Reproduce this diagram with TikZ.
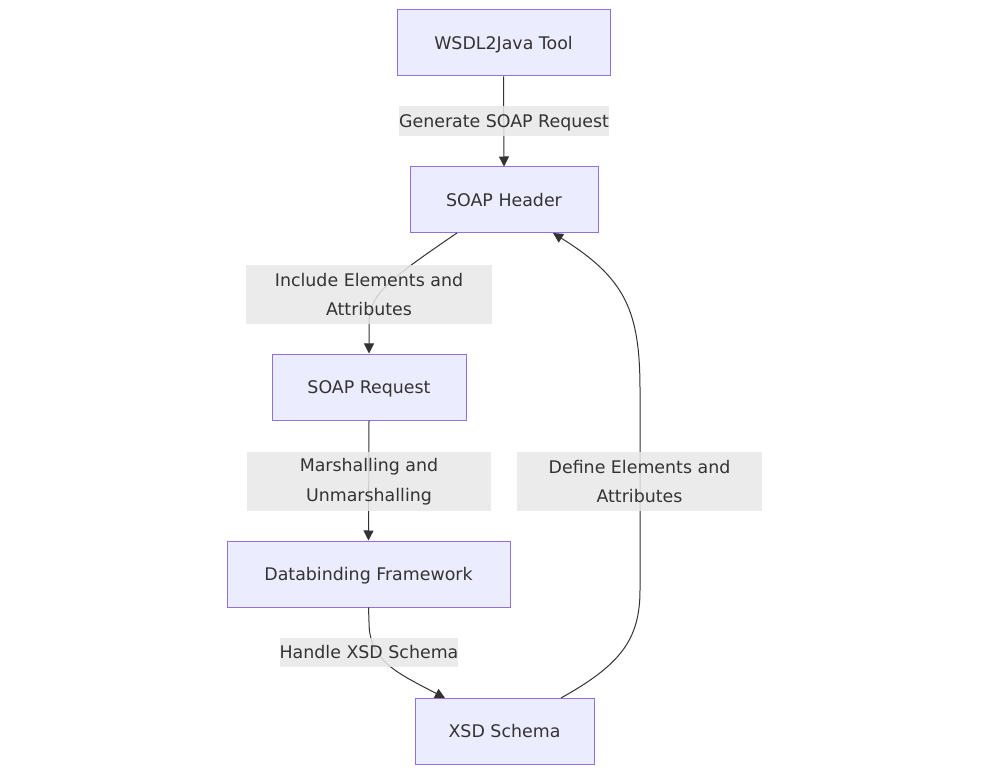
\documentclass[tikz,border=0pt]{standalone}
\usepackage{fontspec}
\setmainfont{DejaVu Sans}
\usetikzlibrary{arrows.meta}
\definecolor{nodefill}{HTML}{ECECFF}
\definecolor{nodeline}{HTML}{9370DB}
\definecolor{lblfill}{HTML}{E8E8E8}
\definecolor{ink}{HTML}{333333}
\tikzset{
  box/.style={draw=nodeline, fill=nodefill, line width=1pt, inner sep=0pt, text=ink, text height=12.8pt, text depth=0pt, font=\fontsize{17.4}{22}\selectfont},
  lbl/.style={fill=lblfill, fill opacity=0.85, text opacity=1, inner sep=0pt, text=ink, align=center, font=\fontsize{17.4}{29.5}\selectfont},
  lbla/.style={lbl, text height=12.8pt, text depth=0pt},
  edge/.style={draw=ink, line width=1pt, -{Triangle[length=10pt,width=10pt]}},
}
\begin{document}
\begin{tikzpicture}[x=1pt,y=-1pt]
\useasboundingbox (0,0) rectangle (990,775);
\node[box, minimum width=213pt, minimum height=66pt] (wsdl) at (503.5,43) {WSDL2Java Tool};
\node[box, minimum width=188pt, minimum height=66pt] (hdr) at (504,200) {SOAP Header};
\node[box, minimum width=194pt, minimum height=66pt] (req) at (369,387) {SOAP Request};
\node[box, minimum width=283pt, minimum height=66pt] (db) at (368.5,574) {Databinding Framework};
\node[box, minimum width=179pt, minimum height=66pt] (xsd) at (504.5,731) {XSD Schema};

\coordinate (h1) at (457,233);
\coordinate (h2) at (553,233);
\coordinate (x1) at (445,698);
\coordinate (x2) at (561,698);

\draw[edge] (wsdl.south) -- (hdr.north);
\draw[edge] (h1) .. controls (385,282) and (369,295) .. (369,325) -- (req.north);
\draw[edge] (req.south) -- (db.north);
\draw[edge] (db.south) -- (369,622) .. controls (369,660) and (395,672) .. (x1);
\draw[edge] (x2) .. controls (620,665) and (640,640) .. (640,590) -- (640,390) .. controls (640,310) and (625,278) .. (h2);

\node[lbla, minimum width=208pt, minimum height=30pt] (l1) at (504,121) {Generate SOAP Request};
\node[lbl, minimum width=246pt, minimum height=59pt] (l2) at (369,294.5) {Include Elements and\\Attributes};
\node[lbl, minimum width=244pt, minimum height=59pt] (l3) at (369,481.5) {Marshalling and\\Unmarshalling};
\node[lbl, minimum width=245pt, minimum height=59pt] (l4) at (639.5,481.5) {Define Elements and\\Attributes};
\node[lbla, minimum width=176pt, minimum height=29pt] (l5) at (369,652.5) {Handle XSD Schema};
\end{tikzpicture}
\end{document}
